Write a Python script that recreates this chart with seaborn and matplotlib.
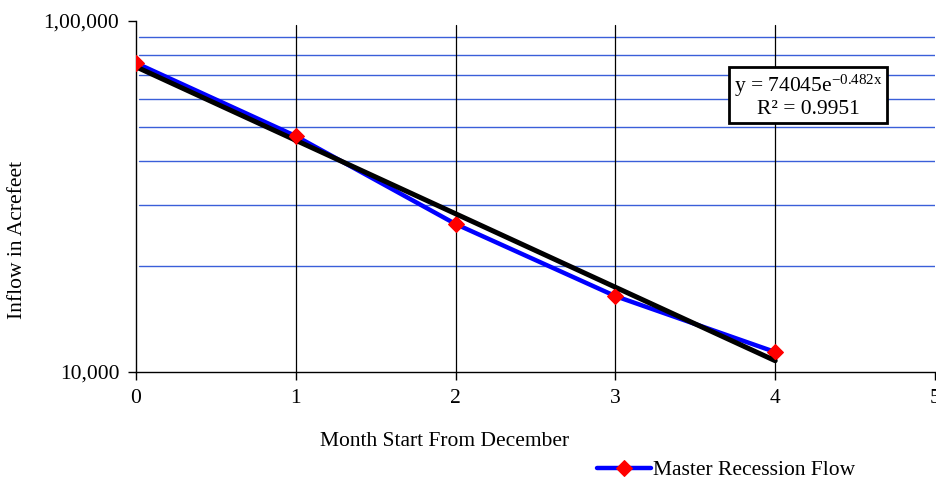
import numpy as np
import pandas as pd
import matplotlib
matplotlib.use("Agg")
import matplotlib.pyplot as plt
import seaborn as sns

# Data
months = [0, 1, 2, 3, 4]
inflow = [75900, 47000, 26400, 16450, 11400]
trend_a = 74045
trend_b = -0.482
x_ticks = [0, 1, 2, 3, 4, 5]
y_ticks = [10000, 100000]
y_tick_labels = ["10,000", "1,00,000"]
minor_grid = [20000, 30000, 40000, 50000, 60000, 70000, 80000, 90000]

sns.set_theme(style="white")
plt.rcParams["font.family"] = ["Liberation Serif", "DejaVu Serif"]
plt.rcParams["mathtext.fontset"] = "custom"
plt.rcParams["mathtext.rm"] = "Liberation Serif"
plt.rcParams["mathtext.it"] = "Liberation Serif:italic"
plt.rcParams["axes.unicode_minus"] = False
plt.rcParams["text.color"] = "black"

FS = 15.5

fig = plt.figure(figsize=(9.37, 4.95), dpi=100)
ax = fig.add_axes([136/937, 1-372/495, (935-136)/937, (372-21)/495])

df = pd.DataFrame({"month": months, "inflow": inflow})
trend_x = np.linspace(0, 4, 50)
trend_df = pd.DataFrame({"month": trend_x, "inflow": trend_a*np.exp(trend_b*trend_x)})

ax.set_yscale("log")
ax.set_xlim(0, 5)
ax.set_ylim(10000, 100000)

# grid
for g in minor_grid:
    ax.axhline(g, color="#3a5fd9", lw=1.0, zorder=1, xmin=0.004)
for xv in [1, 2, 3, 4]:
    ax.axvline(xv, color="black", lw=0.9, zorder=1, ymax=0.99)

sns.lineplot(data=df, x="month", y="inflow", ax=ax, color="#0000ff", lw=3.2,
             marker="D", markersize=8, markerfacecolor="#ff0000",
             markeredgecolor="#ff0000", label="Master Recession Flow", zorder=3)
sns.lineplot(data=trend_df, x="month", y="inflow", ax=ax, color="black", lw=3.6,
             zorder=4, legend=False)
# markers on top
ax.plot(months, inflow, ls="none", marker="D", markersize=7,
        color="#ff0000", zorder=5)

ax.set_xticks(x_ticks)
ax.set_xticklabels([str(v) for v in x_ticks], fontsize=FS)
ax.yaxis.set_major_locator(matplotlib.ticker.FixedLocator(y_ticks))
ax.yaxis.set_minor_locator(matplotlib.ticker.NullLocator())
ax.set_yticklabels(y_tick_labels, fontsize=FS)
ax.tick_params(axis="both", which="major", direction="out", length=6,
               width=1, color="black", labelcolor="black", pad=6, bottom=True, left=True)
for s in ["top", "right"]:
    ax.spines[s].set_visible(False)
for s in ["left", "bottom"]:
    ax.spines[s].set_color("black")
    ax.spines[s].set_linewidth(1.0)
ax.set_xlabel("")
ax.set_ylabel("")

fig.text(445/937, 1-442/495, "Month Start From December", ha="center", va="center",
         fontsize=FS, color="black")
fig.text(18/937, 1-240/495, "Inflow in Acrefeet", rotation=90, ha="center", va="center",
         fontsize=FS, color="black")

ax.text(808/937, 1-96/495, "y = 74045e$^{\\mathrm{-0.482x}}$\nR² = 0.9951",
        transform=fig.transFigure, ha="center", va="center", fontsize=FS,
        linespacing=1.05, zorder=6, color="black",
        bbox=dict(boxstyle="square,pad=0.2", fc="white", ec="black", lw=2))

leg = ax.legend(loc="center", bbox_to_anchor=(726/937, 1-470/495),
                bbox_transform=fig.transFigure, frameon=False, fontsize=FS,
                handlelength=2.5, handletextpad=0.1, labelcolor="black")

fig.savefig("out.png", dpi=100)
